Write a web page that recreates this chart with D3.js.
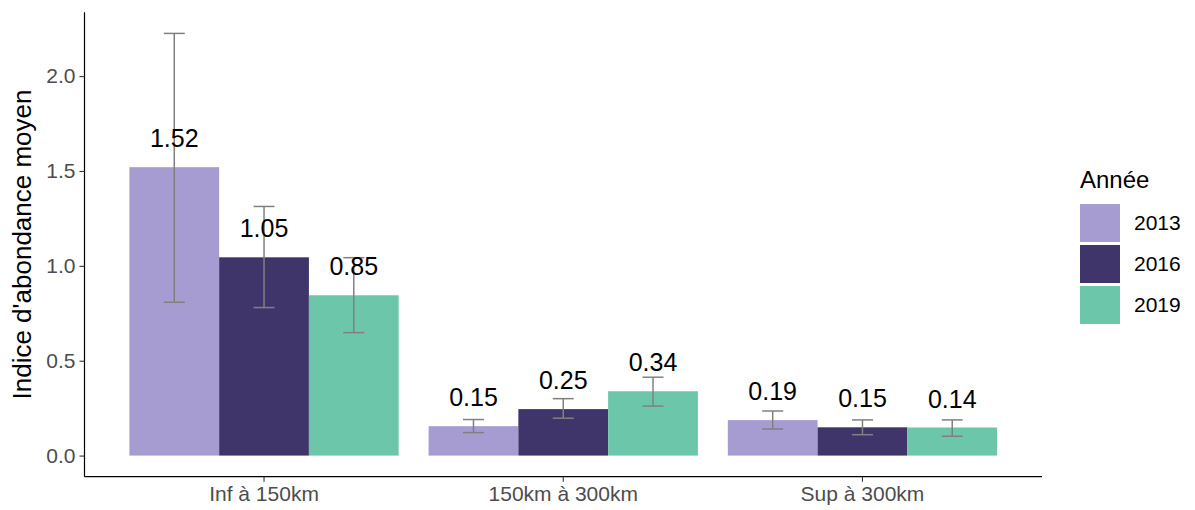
<!DOCTYPE html>
<html><head><meta charset="utf-8">
<script src="https://cdn.jsdelivr.net/npm/d3@7"></script>
<style>body{margin:0;background:#fff}svg{display:block;font-family:"Liberation Sans",Arial,sans-serif}</style>
</head><body>
<svg id="chart" width="1195" height="510"></svg>
<script>
const categories = ["Inf à 150km", "150km à 300km", "Sup à 300km"];
const years = ["2013", "2016", "2019"];
const values2013 = [1.52, 0.155, 0.187];
const values2016 = [1.045, 0.245, 0.149];
const values2019 = [0.845, 0.339, 0.148];
const labels2013 = ["1.52", "0.15", "0.19"];
const labels2016 = ["1.05", "0.25", "0.15"];
const labels2019 = ["0.85", "0.34", "0.14"];
const low2013 = [0.808, 0.121, 0.14];
const high2013 = [2.225, 0.19, 0.235];
const low2016 = [0.78, 0.197, 0.11];
const high2016 = [1.313, 0.30, 0.188];
const low2019 = [0.648, 0.261, 0.102];
const high2019 = [1.043, 0.413, 0.188];
const yTicks = [0, 0.5, 1.0, 1.5, 2.0];
const colors = ["#a69cd2", "#3f356b", "#6cc6aa"];

(function () {
const series = [
  {year: years[0], values: values2013, labels: labels2013, low: low2013, high: high2013},
  {year: years[1], values: values2016, labels: labels2016, low: low2016, high: high2016},
  {year: years[2], values: values2019, labels: labels2019, low: low2019, high: high2019}
];
const rows = [];
series.forEach((s, si) => categories.forEach((c, ci) => rows.push({
  cat: c, year: s.year, v: s.values[ci], label: s.labels[ci], lo: s.low[ci], hi: s.high[ci]
})));

const svg = d3.select("#chart");
const pL = 84.5, pR = 1042, pT = 12.3, pB = 476.7;
const x = d3.scaleBand().domain(categories).range([pL, pR]).paddingInner(0.1).paddingOuter(0.15);
const xi = d3.scaleBand().domain(years).range([0, x.bandwidth()]);
const y = d3.scaleLinear().domain([-0.1113, 2.3363]).range([pB, pT]);
const color = d3.scaleOrdinal().domain(years).range(colors);

svg.append("g").selectAll("rect").data(rows).join("rect")
  .attr("x", d => x(d.cat) + xi(d.year))
  .attr("width", xi.bandwidth())
  .attr("y", d => y(d.v))
  .attr("height", d => y(0) - y(d.v))
  .attr("fill", d => color(d.year));

const eb = svg.append("g").attr("stroke", "#808080").attr("stroke-width", 1.5).attr("fill", "none");
const capW = 21;
rows.forEach(d => {
  const cx = x(d.cat) + xi(d.year) + xi.bandwidth() / 2;
  eb.append("line").attr("x1", cx).attr("x2", cx).attr("y1", y(d.lo)).attr("y2", y(d.hi));
  eb.append("line").attr("x1", cx - capW/2).attr("x2", cx + capW/2).attr("y1", y(d.lo)).attr("y2", y(d.lo));
  eb.append("line").attr("x1", cx - capW/2).attr("x2", cx + capW/2).attr("y1", y(d.hi)).attr("y2", y(d.hi));
});

svg.append("g").selectAll("text").data(rows).join("text")
  .attr("x", d => x(d.cat) + xi(d.year) + xi.bandwidth() / 2)
  .attr("y", d => y(d.v) - 20)
  .attr("text-anchor", "middle")
  .attr("font-size", 25)
  .attr("fill", "#000")
  .text(d => d.label);

const yAxis = svg.append("g").attr("transform", `translate(${pL},0)`)
  .call(d3.axisLeft(y).tickValues(yTicks).tickFormat(d3.format(".1f")).tickSize(5).tickPadding(4));
yAxis.select(".domain").attr("d", `M0,${pT}V${pB}`).attr("stroke", "#000").attr("stroke-width", 1.2);
yAxis.selectAll(".tick line").attr("stroke", "#333").attr("stroke-width", 1.1);
yAxis.selectAll(".tick text").attr("fill", "#4d4d4d").attr("font-size", 21).attr("font-family", "Liberation Sans, Arial, sans-serif");

const xAxis = svg.append("g").attr("transform", `translate(0,${pB})`)
  .call(d3.axisBottom(x).tickSize(5).tickPadding(4));
xAxis.select(".domain").attr("d", `M${pL},0H${pR}`).attr("stroke", "#000").attr("stroke-width", 1.2);
xAxis.selectAll(".tick line").attr("stroke", "#333").attr("stroke-width", 1.1);
xAxis.selectAll(".tick text").attr("fill", "#4d4d4d").attr("font-size", 21).attr("font-family", "Liberation Sans, Arial, sans-serif");

svg.append("text")
  .attr("transform", `translate(31,${(pT + pB) / 2}) rotate(-90)`)
  .attr("text-anchor", "middle")
  .attr("font-size", 26)
  .attr("fill", "#000")
  .text("Indice d'abondance moyen");

const lg = svg.append("g");
lg.append("text").attr("x", 1080).attr("y", 188).attr("font-size", 24).attr("fill", "#000").text("Année");
years.forEach((yr, i) => {
  lg.append("rect").attr("x", 1080).attr("y", 204 + i * 41).attr("width", 40).attr("height", 38).attr("fill", color(yr));
  lg.append("text").attr("x", 1134).attr("y", 204 + i * 41 + 19).attr("dy", "0.35em")
    .attr("font-size", 21).attr("fill", "#000").text(yr);
});
})();
</script>
</body></html>
